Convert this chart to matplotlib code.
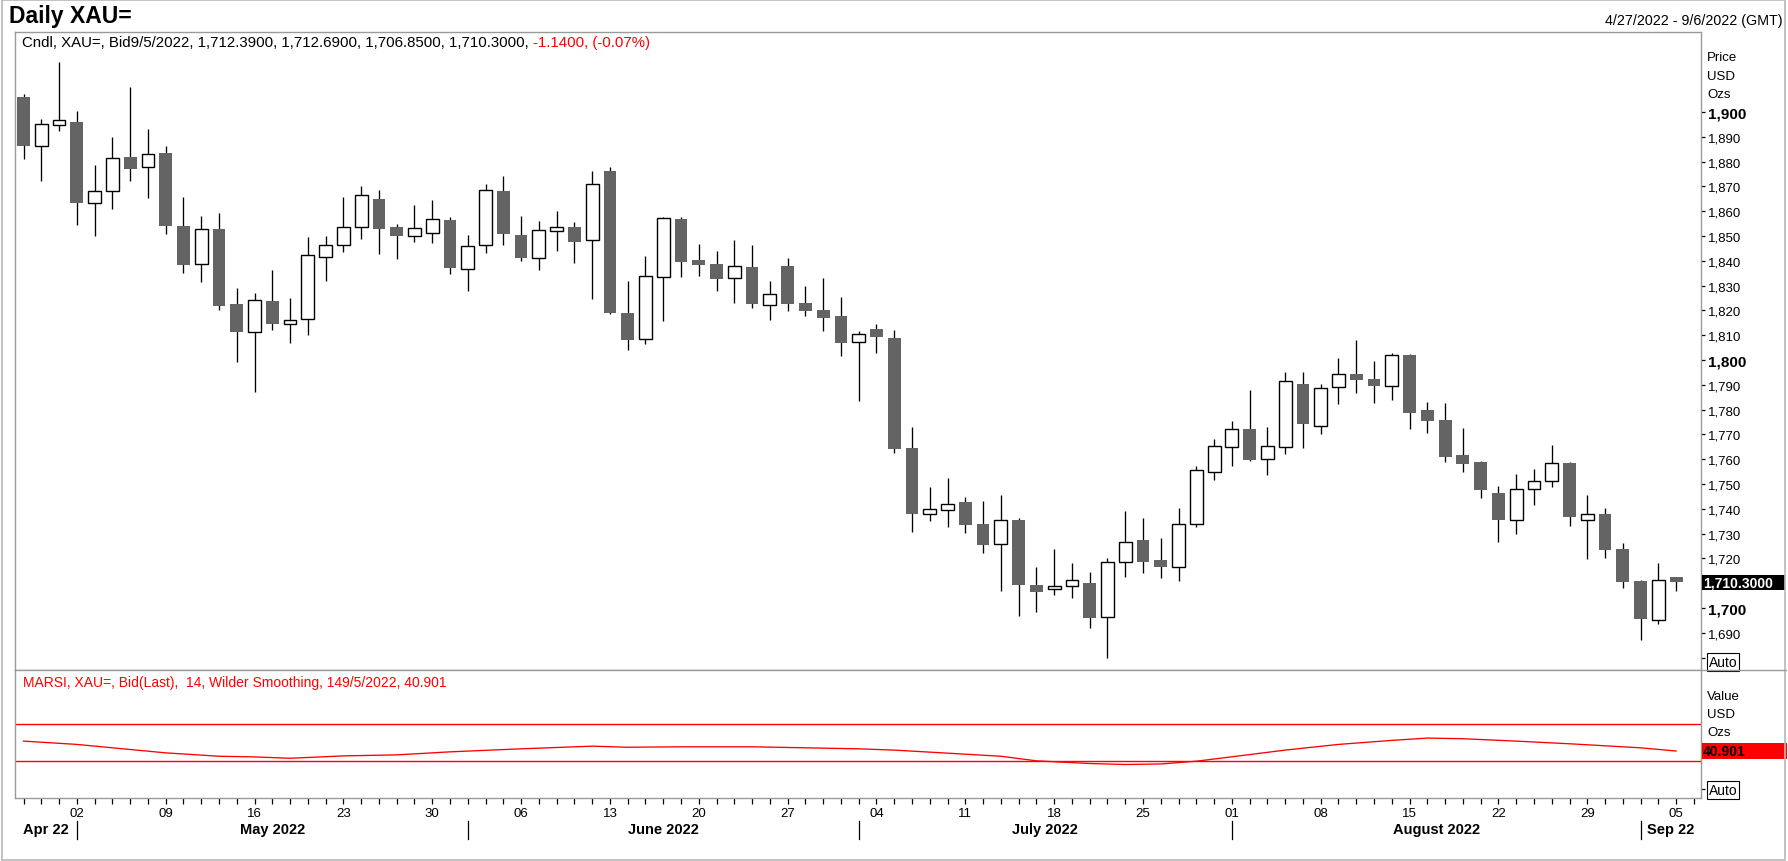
import matplotlib
matplotlib.use('Agg')
import matplotlib.pyplot as plt
from matplotlib.patches import Rectangle
from matplotlib.transforms import blended_transform_factory
import datetime as dt

plt.rcParams['font.family'] = ['Liberation Sans', 'DejaVu Sans']

# ---------------- data ----------------
dates = [
    '2022-04-27', '2022-04-28', '2022-04-29',
    '2022-05-02', '2022-05-03', '2022-05-04', '2022-05-05', '2022-05-06',
    '2022-05-09', '2022-05-10', '2022-05-11', '2022-05-12', '2022-05-13',
    '2022-05-16', '2022-05-17', '2022-05-18', '2022-05-19', '2022-05-20',
    '2022-05-23', '2022-05-24', '2022-05-25', '2022-05-26', '2022-05-27',
    '2022-05-30', '2022-05-31',
    '2022-06-01', '2022-06-02', '2022-06-03',
    '2022-06-06', '2022-06-07', '2022-06-08', '2022-06-09', '2022-06-10',
    '2022-06-13', '2022-06-14', '2022-06-15', '2022-06-16', '2022-06-17',
    '2022-06-20', '2022-06-21', '2022-06-22', '2022-06-23', '2022-06-24',
    '2022-06-27', '2022-06-28', '2022-06-29', '2022-06-30',
    '2022-07-01',
    '2022-07-04', '2022-07-05', '2022-07-06', '2022-07-07', '2022-07-08',
    '2022-07-11', '2022-07-12', '2022-07-13', '2022-07-14', '2022-07-15',
    '2022-07-18', '2022-07-19', '2022-07-20', '2022-07-21', '2022-07-22',
    '2022-07-25', '2022-07-26', '2022-07-27', '2022-07-28', '2022-07-29',
    '2022-08-01', '2022-08-02', '2022-08-03', '2022-08-04', '2022-08-05',
    '2022-08-08', '2022-08-09', '2022-08-10', '2022-08-11', '2022-08-12',
    '2022-08-15', '2022-08-16', '2022-08-17', '2022-08-18', '2022-08-19',
    '2022-08-22', '2022-08-23', '2022-08-24', '2022-08-25', '2022-08-26',
    '2022-08-29', '2022-08-30', '2022-08-31',
    '2022-09-01', '2022-09-02',
    '2022-09-05',
]

opens = [
    1906.0, 1886.4, 1894.6,
    1896.0, 1863.3, 1868.3, 1881.9, 1877.7,
    1883.5, 1854.0, 1838.6, 1852.8, 1822.6,
    1811.2, 1823.8, 1814.4, 1816.4, 1841.4,
    1846.6, 1853.5, 1864.9, 1853.5, 1849.9,
    1851.1, 1856.5,
    1836.6, 1846.6, 1868.1,
    1850.4, 1841.0, 1851.9, 1853.5, 1848.3,
    1876.2, 1819.0, 1808.3, 1833.3, 1856.9,
    1840.3, 1838.7, 1832.9, 1837.5, 1822.0,
    1837.9, 1823.0, 1820.2, 1817.7,
    1807.1,
    1812.5, 1808.9, 1764.5, 1737.8, 1739.4,
    1742.7, 1733.9, 1725.7, 1735.5, 1709.3,
    1707.5, 1708.7, 1710.1, 1696.2, 1718.4,
    1727.4, 1719.4, 1716.4, 1733.7, 1754.7,
    1764.8, 1772.2, 1759.9, 1764.8, 1790.2,
    1773.3, 1789.0, 1794.4, 1792.3, 1789.4,
    1802.0, 1779.8, 1775.8, 1761.7, 1758.9,
    1746.4, 1735.4, 1747.9, 1751.1, 1758.5,
    1735.3, 1737.8, 1723.8,
    1710.9, 1695.3,
    1712.39,
]

highs = [
    1907.1, 1897.2, 1920.0,
    1900.4, 1878.6, 1889.9, 1910.1, 1893.1,
    1886.3, 1865.7, 1858.0, 1859.3, 1829.0,
    1826.9, 1836.4, 1825.1, 1849.6, 1850.0,
    1865.7, 1870.2, 1868.4, 1854.7, 1862.5,
    1864.5, 1857.5,
    1850.3, 1871.0, 1874.2,
    1858.1, 1856.0, 1860.1, 1855.6, 1876.2,
    1877.7, 1831.9, 1841.9, 1857.7, 1857.7,
    1846.8, 1844.0, 1848.4, 1846.4, 1831.9,
    1841.1, 1829.8, 1833.1, 1825.4,
    1811.7,
    1814.5, 1812.1, 1773.0, 1748.8, 1752.4,
    1744.7, 1743.1, 1745.6, 1736.3, 1716.5,
    1723.8, 1718.1, 1714.4, 1720.2, 1739.1,
    1736.4, 1728.2, 1740.3, 1757.1, 1768.1,
    1775.4, 1787.9, 1773.0, 1795.2, 1795.2,
    1790.3, 1800.8, 1808.1, 1799.6, 1802.7,
    1802.4, 1783.1, 1782.7, 1772.6, 1759.3,
    1749.2, 1754.0, 1756.0, 1765.7, 1758.7,
    1745.6, 1740.3, 1726.2,
    1711.1, 1718.1,
    1712.69,
]

lows = [
    1881.2, 1872.3, 1892.2,
    1854.6, 1850.1, 1860.9, 1872.3, 1865.5,
    1851.0, 1835.2, 1831.6, 1820.3, 1799.1,
    1787.0, 1812.2, 1807.0, 1810.2, 1832.0,
    1843.7, 1848.9, 1842.7, 1840.7, 1847.7,
    1847.3, 1834.8,
    1828.0, 1843.3, 1846.5,
    1840.1, 1836.4, 1844.1, 1839.3, 1824.7,
    1818.7, 1804.2, 1806.6, 1815.9, 1833.6,
    1834.0, 1827.8, 1823.1, 1821.1, 1816.3,
    1819.9, 1817.9, 1811.8, 1801.8,
    1783.6,
    1803.0, 1762.6, 1730.8, 1735.2, 1732.8,
    1730.4, 1722.3, 1707.0, 1696.9, 1698.3,
    1705.4, 1704.2, 1692.1, 1680.0, 1712.6,
    1714.2, 1712.2, 1711.0, 1732.8, 1751.8,
    1757.4, 1759.3, 1753.8, 1762.2, 1764.7,
    1770.3, 1782.4, 1786.8, 1782.8, 1784.0,
    1772.3, 1770.7, 1759.0, 1755.0, 1744.4,
    1726.7, 1730.0, 1741.7, 1748.9, 1733.2,
    1719.8, 1720.2, 1708.2,
    1687.2, 1693.7,
    1706.85,
]

closes = [
    1886.4, 1895.0, 1897.0,
    1863.2, 1868.3, 1881.3, 1877.2, 1883.3,
    1854.2, 1838.4, 1852.7, 1821.9, 1811.4,
    1824.1, 1814.7, 1816.1, 1842.2, 1846.2,
    1853.5, 1866.5, 1852.8, 1850.1, 1853.1,
    1856.7, 1837.2,
    1845.8, 1868.4, 1850.9,
    1841.3, 1852.3, 1853.5, 1847.7, 1871.2,
    1819.1, 1808.2, 1833.7, 1857.1, 1839.7,
    1838.4, 1832.8, 1837.9, 1822.7, 1826.5,
    1822.7, 1819.9, 1817.1, 1807.0,
    1810.4,
    1809.4, 1764.2, 1738.0, 1739.8, 1741.8,
    1733.6, 1725.5, 1735.3, 1709.4, 1706.6,
    1708.7, 1711.2, 1696.1, 1718.4, 1726.5,
    1718.7, 1716.7, 1733.7, 1755.5, 1765.2,
    1772.0, 1759.7, 1765.2, 1791.4, 1774.3,
    1788.6, 1794.2, 1792.1, 1789.6, 1801.9,
    1778.8, 1775.5, 1761.0, 1758.2, 1747.7,
    1735.6, 1747.9, 1751.1, 1758.5, 1736.8,
    1737.8, 1723.5, 1710.6,
    1695.6, 1711.44,
    1710.30,
]

rsi_dates = [
    '2022-04-27', '2022-05-02', '2022-05-04', '2022-05-09', '2022-05-12',
    '2022-05-16', '2022-05-18', '2022-05-23', '2022-05-26', '2022-05-31',
    '2022-06-06', '2022-06-10', '2022-06-14', '2022-06-17', '2022-06-23',
    '2022-06-28', '2022-07-01', '2022-07-05', '2022-07-07', '2022-07-13',
    '2022-07-15', '2022-07-20', '2022-07-22', '2022-07-26', '2022-07-28',
    '2022-08-01', '2022-08-04', '2022-08-09', '2022-08-12', '2022-08-16',
    '2022-08-18', '2022-08-23', '2022-08-26', '2022-09-01', '2022-09-05',
]
rsi_values = [
    51.7, 48.1, 44.4, 38.9, 35.2,
    34.5, 33.0, 35.6, 36.7, 40.0,
    43.3, 46.2, 45.0, 45.5, 45.5,
    44.4, 43.3, 41.9, 39.7, 35.2,
    30.2, 27.3, 26.2, 26.8, 29.8,
    34.6, 41.9, 48.1, 52.5, 55.0,
    54.3, 51.7, 48.8, 44.4, 40.901,
]
rsi_bands = [70, 30]

price_ticks = list(range(1690, 1901, 10))
month_labels = ['Apr 22', 'May 2022', 'June 2022', 'July 2022', 'August 2022', 'Sep 22']

header_title = 'Daily XAU='
header_range = '4/27/2022 - 9/6/2022 (GMT)'
cndl_text = 'Cndl, XAU=, Bid9/5/2022, 1,712.3900, 1,712.6900, 1,706.8500, 1,710.3000, '
cndl_change = '-1.1400, (-0.07%)'
rsi_text = 'MARSI, XAU=, Bid(Last),  14, Wilder Smoothing, 149/5/2022, 40.901'

# ---------------- layout helpers ----------------
W, H = 1788, 862
DPI = 100
fig = plt.figure(figsize=(W / DPI, H / DPI), dpi=DPI, facecolor='white')

def fx(px):
    return px / W

def fy(py):
    return 1 - py / H

L, R = 15, 1701
T_MAIN, B_MAIN, B_RSI = 33, 671, 799
GRAY = '#9a9a9a'
DOWN = '#646464'
RED = '#ff0000'

ax = fig.add_axes([fx(L), fy(B_MAIN), (R - L) / W, (B_MAIN - T_MAIN) / H])
axr = fig.add_axes([fx(L), fy(B_RSI), (R - L) / W, (B_RSI - B_MAIN) / H], sharex=ax)

pos = {d: i for i, d in enumerate(dates)}
xs = list(range(len(dates)))

# ---------------- candles ----------------
body_w = 0.72
for i in xs:
    o, h, l, c = opens[i], highs[i], lows[i], closes[i]
    up = c >= o
    ax.vlines(i, l, h, color='black', lw=0.95, zorder=2)
    bottom = min(o, c)
    height = max(abs(c - o), 0.25)
    if up:
        ax.bar(i, height, bottom=bottom, width=body_w, facecolor='white',
               edgecolor='black', linewidth=1.0, zorder=3)
    else:
        ax.bar(i, height, bottom=bottom, width=body_w, facecolor=DOWN,
               edgecolor='none', linewidth=0, zorder=3)

ax.set_xlim(-0.48, 94.4)
ax.set_ylim(1675.0, 1932.3)

for a in (ax, axr):
    for s in a.spines.values():
        s.set_color(GRAY)
        s.set_linewidth(1.0)
    a.set_facecolor('white')

last = closes[-1]
ax.tick_params(axis='x', which='both', bottom=False, labelbottom=False)
ax.yaxis.tick_right()
yt = price_ticks + [1680]
ax.set_yticks(yt)
ylabels = []
for p in price_ticks:
    # the tick hidden behind the last-price box gets no label
    ylabels.append('' if abs(p - last) < 4 else f'{p:,}')
ylabels.append('')
ax.set_yticklabels(ylabels)
ax.tick_params(axis='y', direction='out', length=3, width=0.9, colors='black',
               pad=2, labelsize=9.5)
for lab, p in zip(ax.get_yticklabels(), yt):
    if p % 100 == 0:
        lab.set_fontweight('bold')
        lab.set_fontsize(11)

# "Auto" boxes
tr_main = blended_transform_factory(ax.transAxes, ax.transData)
ax.text((1709 - L) / (R - L), 1678.2, 'Auto', transform=tr_main, fontsize=10,
        va='center', ha='left', clip_on=False,
        bbox=dict(boxstyle='square,pad=0.12', facecolor='white', edgecolor='black', lw=0.8))

# Price / USD / Ozs
for txt, py in zip(['Price', 'USD', 'Ozs'], [58, 77, 95]):
    fig.text(fx(1707), fy(py), txt, fontsize=9.5, va='center', ha='left')

# last price box
ax.add_patch(Rectangle(((1702 - L) / (R - L), last - 3.1), (1785 - 1702) / (R - L), 6.2,
                       transform=tr_main, facecolor='black', edgecolor='none',
                       clip_on=False, zorder=5))
ax.text((1703 - L) / (R - L), last, f'{last:,.4f}', transform=tr_main, color='white',
        fontsize=10, fontweight='bold', va='center', ha='left', clip_on=False, zorder=6)

# ---------------- RSI panel ----------------
rx = [pos[d] for d in rsi_dates]
axr.plot(rx, rsi_values, color=RED, lw=0.95, zorder=3)
for b in rsi_bands:
    axr.axhline(b, color=RED, lw=1.0, zorder=2)
axr.set_ylim(-10.3, 129.2)
axr.yaxis.tick_right()
axr.set_yticks([0])
axr.set_yticklabels([''])
axr.tick_params(axis='y', direction='out', length=3, width=0.9, colors='black', pad=2)
tr_rsi = blended_transform_factory(axr.transAxes, axr.transData)
axr.text((1709 - L) / (R - L), -1.6, 'Auto', transform=tr_rsi, fontsize=10,
         va='center', ha='left', clip_on=False,
         bbox=dict(boxstyle='square,pad=0.12', facecolor='white', edgecolor='black', lw=0.8))
for txt, py in zip(['Value', 'USD', 'Ozs'], [697, 715, 733]):
    fig.text(fx(1707), fy(py), txt, fontsize=9.5, va='center', ha='left')
lastr = rsi_values[-1]
axr.add_patch(Rectangle(((1702 - L) / (R - L), lastr - 9.0), (1787 - 1702) / (R - L), 18.0,
                        transform=tr_rsi, facecolor=RED, edgecolor='none',
                        clip_on=False, zorder=5))
axr.text((1703 - L) / (R - L), lastr, f'{lastr:.3f}', transform=tr_rsi, color='black',
         fontsize=10, fontweight='bold', va='center', ha='left', clip_on=False, zorder=6)

# x ticks: every trading day, labels on Mondays
dts = [dt.date.fromisoformat(d) for d in dates]
ticks = list(range(len(dates) + 1))
labels = []
for i in ticks:
    if i < len(dts) and dts[i].weekday() == 0:
        labels.append(f'{dts[i].day:02d}')
    else:
        labels.append('')
axr.set_xticks(ticks)
axr.set_xticklabels(labels)
axr.tick_params(axis='x', direction='out', length=4, width=0.9, colors='black',
                pad=2.5, labelsize=9.5)

# month separators and labels
month_starts = [i for i in range(len(dts)) if i > 0 and dts[i].month != dts[i - 1].month]
bt = blended_transform_factory(axr.transData, fig.transFigure)
for m in month_starts:
    axr.plot([m, m], [fy(822), fy(840)], transform=bt, color='black', lw=0.9, clip_on=False)
edges = [-0.48] + month_starts + [94.4]
for k, lab in enumerate(month_labels):
    cx = (edges[k] + edges[k + 1]) / 2
    axr.text(cx, fy(830), lab, transform=bt, fontsize=10.5, fontweight='bold',
             ha='center', va='center', clip_on=False)

# separator line between panels extending to the right edge
fig.add_artist(plt.Line2D([fx(R), fx(1786)], [fy(B_MAIN), fy(B_MAIN)], color=GRAY, lw=1.0))
# outer frame
fig.add_artist(Rectangle((fx(1.5), fy(860.5)), fx(1785) - fx(1.5), fy(0.5) - fy(860.5),
                         transform=fig.transFigure, facecolor='none', edgecolor='#b8b8b8', lw=1.2))

# ---------------- header texts ----------------
fig.text(fx(9), fy(16.5), header_title, fontsize=16.5, fontweight='bold', va='center', ha='left')
fig.text(fx(1783), fy(21), header_range, fontsize=10.3, va='center', ha='right')

t1 = fig.text(fx(22), fy(43), cndl_text, fontsize=10.8, va='center', ha='left')
fig.canvas.draw()
bb = t1.get_window_extent()
fig.text(bb.x1 / W, fy(43), cndl_change, fontsize=10.8, va='center', ha='left', color=RED)

fig.text(fx(23), fy(683), rsi_text, fontsize=10, va='center', ha='left', color=RED)

fig.savefig('out.png', dpi=DPI, facecolor='white')
